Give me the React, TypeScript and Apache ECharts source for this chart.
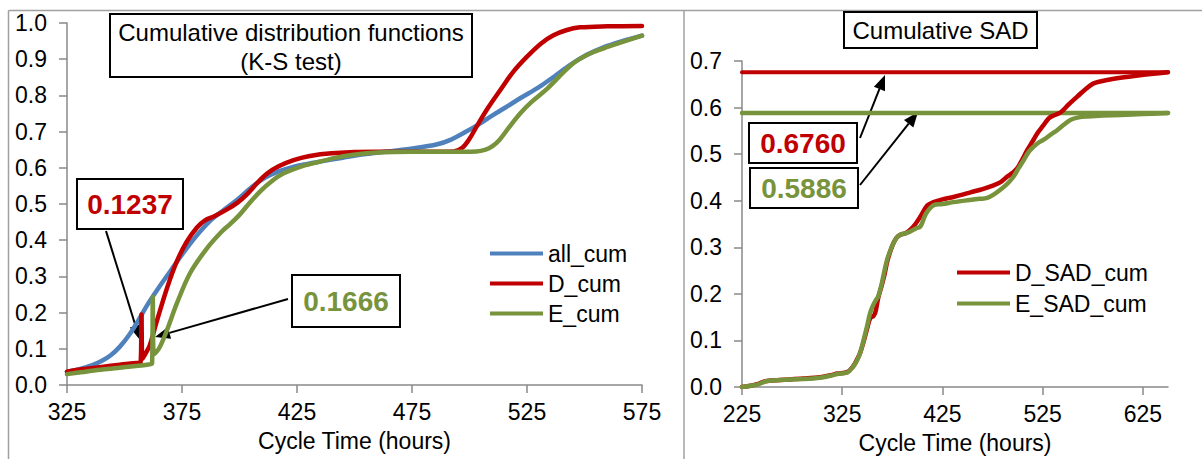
import React, { useEffect, useRef } from "react";
import * as echarts from "echarts";

// ---------- data ----------
const LEFT_X_TICKS = [325, 375, 425, 475, 525, 575];
const RIGHT_X_TICKS = [225, 325, 425, 525, 625];

const ALL_CUM: [number, number][] = [
  [325, 0.037], [330, 0.043], [336, 0.055], [340, 0.066], [344, 0.082], [348, 0.106],
  [352, 0.138], [356, 0.178], [360, 0.222], [365, 0.27], [370, 0.315], [375, 0.36],
  [381, 0.41], [387, 0.452], [393, 0.483], [399, 0.512], [405, 0.545], [411, 0.572],
  [417, 0.59], [423, 0.602], [429, 0.61], [435, 0.617], [445, 0.628], [455, 0.638],
  [464, 0.645], [476, 0.654], [486, 0.665], [492, 0.678], [498, 0.698], [504, 0.72],
  [510, 0.745], [516, 0.768], [522, 0.792], [530, 0.822], [537, 0.853], [544, 0.885],
  [551, 0.912], [558, 0.932], [566, 0.949], [575, 0.965],
];

const D_CUM: [number, number][] = [
  [325, 0.037], [332, 0.044], [340, 0.05], [348, 0.056], [354, 0.06], [357, 0.063],
  [357.4, 0.195], [357.8, 0.072], [359, 0.085], [361, 0.11], [364, 0.175], [368.5, 0.268],
  [372.8, 0.342], [377, 0.395], [381.5, 0.435], [385, 0.455], [389, 0.466], [394.6, 0.485],
  [399, 0.503], [403, 0.525], [408, 0.56], [412, 0.584], [417, 0.604], [423.5, 0.621],
  [430, 0.632], [440, 0.64], [460, 0.644], [480, 0.644], [493, 0.645], [497, 0.656],
  [500, 0.68], [503, 0.713], [508, 0.765], [513.4, 0.815], [519, 0.865], [525, 0.907],
  [531, 0.943], [536.5, 0.966], [542, 0.98], [548, 0.988], [560, 0.991], [575, 0.992],
];

const E_CUM: [number, number][] = [
  [325, 0.03], [332, 0.036], [339.5, 0.042], [347, 0.047], [354, 0.052], [359.8, 0.056],
  [362, 0.06], [362.3, 0.244], [362.7, 0.085], [364, 0.092], [365.6, 0.108], [368.5, 0.152],
  [372.8, 0.226], [378.6, 0.31], [385.9, 0.378], [392, 0.422], [396, 0.445], [400, 0.47],
  [404, 0.5], [409, 0.535], [414, 0.563], [419, 0.584], [426, 0.602], [433.7, 0.615],
  [442, 0.628], [449.6, 0.636], [460, 0.642], [475, 0.644], [490, 0.644], [503, 0.645],
  [507, 0.65], [510, 0.66], [513, 0.677], [517, 0.71], [522, 0.75], [527, 0.782],
  [533.7, 0.818], [539, 0.852], [545, 0.888], [550, 0.908], [554, 0.92], [560, 0.934],
  [565.6, 0.946], [575, 0.965],
];

const D_SAD_CUM: [number, number][] = [
  [225, 0.0], [232, 0.002], [240, 0.006], [246, 0.011], [250, 0.013], [263, 0.015],
  [286, 0.018], [303, 0.021], [315, 0.026], [320, 0.029], [330, 0.032], [336, 0.045],
  [340, 0.06], [343, 0.074], [346, 0.095], [349.7, 0.124], [353, 0.148], [356, 0.152],
  [358, 0.16], [361, 0.192], [364, 0.215], [367, 0.24], [370, 0.27], [374.7, 0.302],
  [379, 0.32], [383, 0.327], [388, 0.33], [393, 0.338], [398, 0.35], [403, 0.366],
  [410, 0.39], [416, 0.397], [425, 0.403], [436, 0.408], [445, 0.413], [453, 0.418],
  [465, 0.425], [476, 0.433], [483, 0.44], [489.7, 0.452], [495, 0.46], [499.7, 0.47],
  [505, 0.49], [509.7, 0.509], [515, 0.528], [519.7, 0.545], [525, 0.56], [531, 0.577],
  [536, 0.583], [543, 0.59], [551, 0.607], [559.7, 0.624], [568, 0.64], [575, 0.651],
  [580, 0.655], [596, 0.662], [620, 0.669], [650, 0.676],
];

const E_SAD_CUM: [number, number][] = [
  [225, 0.0], [232, 0.002], [240, 0.005], [246, 0.01], [250, 0.013], [263, 0.015],
  [286, 0.017], [303, 0.02], [315, 0.025], [320, 0.028], [330, 0.031], [336, 0.044],
  [340, 0.058], [343, 0.074], [346, 0.098], [349.7, 0.13], [353, 0.16], [356.3, 0.178],
  [359, 0.188], [361, 0.195], [364, 0.218], [367, 0.248], [370, 0.275], [374.7, 0.302],
  [379, 0.32], [383, 0.327], [388, 0.33], [393, 0.334], [398, 0.34], [403, 0.345],
  [408, 0.37], [413, 0.385], [418, 0.392], [425, 0.393], [436, 0.397], [450, 0.401],
  [462, 0.404], [469.7, 0.406], [476, 0.413], [483, 0.424], [490, 0.437], [496, 0.452],
  [501, 0.47], [506.3, 0.488], [511, 0.505], [516, 0.516], [521, 0.525], [526, 0.531],
  [533, 0.542], [539.7, 0.552], [546, 0.563], [553, 0.574], [561, 0.579], [569.7, 0.581],
  [585, 0.583], [603, 0.584], [625, 0.586], [650, 0.5886],
];

const D_SAD_MAX = 0.676;
const E_SAD_MAX = 0.5886;
const SAD_X_RANGE = [225, 650];

const KS_D_LABEL = "0.1237";
const KS_E_LABEL = "0.1666";
const SAD_D_LABEL = "0.6760";
const SAD_E_LABEL = "0.5886";

// ---------- styling ----------
const BLUE = "#4F81BD";
const RED = "#C00000";
const GREEN = "#77933C";
const AXIS_GRAY = "#898989";
const FONT = "'Liberation Sans', Arial, sans-serif";
const FS = 23;

function arrow(x1: number, y1: number, x2: number, y2: number) {
  const len = 15;
  const half = 6;
  const dx = x2 - x1;
  const dy = y2 - y1;
  const L = Math.hypot(dx, dy);
  const ux = dx / L;
  const uy = dy / L;
  const bx = x2 - ux * len;
  const by = y2 - uy * len;
  const px = -uy;
  const py = ux;
  return [
    { type: "line", shape: { x1, y1, x2: bx, y2: by }, style: { stroke: "#000", lineWidth: 2 } },
    {
      type: "polygon",
      shape: { points: [[x2, y2], [bx + px * half, by + py * half], [bx - px * half, by - py * half]] },
      style: { fill: "#000" },
    },
  ];
}

function box(x: number, y: number, w: number, h: number) {
  return {
    type: "rect",
    shape: { x, y, width: w, height: h },
    style: { fill: "#fff", stroke: "#000", lineWidth: 2 },
  };
}

function label(x: number, y: number, text: string, color: string, bold: boolean, size: number, lh?: number) {
  return {
    type: "text",
    x,
    y,
    style: {
      text,
      fill: color,
      fontFamily: FONT,
      fontSize: size,
      fontWeight: bold ? "bold" : "normal",
      align: "center",
      verticalAlign: "middle",
      lineHeight: lh,
    },
  };
}

function xAxisCfg(gridIndex: number, min: number, max: number, ticks: number[]) {
  return {
    type: "value",
    gridIndex,
    min,
    max,
    name: "Cycle Time (hours)",
    nameLocation: "middle",
    nameGap: 44,
    nameTextStyle: { color: "#000", fontFamily: FONT, fontSize: FS },
    axisLine: { show: true, lineStyle: { color: AXIS_GRAY, width: 1.5 } },
    axisTick: { show: true, length: 8, customValues: ticks, lineStyle: { color: AXIS_GRAY, width: 1.5 } },
    axisLabel: { customValues: ticks, color: "#000", fontFamily: FONT, fontSize: FS, margin: 15 },
    splitLine: { show: false },
  };
}

function yAxisCfg(gridIndex: number, max: number) {
  return {
    type: "value",
    gridIndex,
    min: 0,
    max,
    interval: 0.1,
    axisLine: { show: true, lineStyle: { color: AXIS_GRAY, width: 1.5 } },
    axisTick: { show: true, length: 8, lineStyle: { color: AXIS_GRAY, width: 1.5 } },
    axisLabel: {
      color: "#000",
      fontFamily: FONT,
      fontSize: FS,
      margin: 20,
      formatter: (v: number) => v.toFixed(1),
    },
    splitLine: { show: false },
  };
}

function lineSeries(name: string, data: [number, number][], color: string, idx: number, width = 4.5, smooth: number | boolean = 0.35) {
  return {
    type: "line",
    name,
    xAxisIndex: idx,
    yAxisIndex: idx,
    data,
    symbol: "none",
    showSymbol: false,
    smooth,
    lineStyle: { color, width, cap: "round", join: "round" },
    itemStyle: { color },
  };
}

export default function App() {
  const ref = useRef<HTMLDivElement>(null);

  useEffect(() => {
    if (!ref.current) return;
    const chart = echarts.init(ref.current, null, { renderer: "svg" });

    const graphics: any[] = [
      // panel borders
      { type: "line", shape: { x1: 8.5, y1: 10.5, x2: 1202, y2: 10.5 }, style: { stroke: "#a0a0a0", lineWidth: 1.5 } },
      { type: "line", shape: { x1: 8.5, y1: 10.5, x2: 8.5, y2: 459 }, style: { stroke: "#a0a0a0", lineWidth: 1.5 } },
      { type: "line", shape: { x1: 684, y1: 10.5, x2: 684, y2: 459 }, style: { stroke: "#a0a0a0", lineWidth: 1.5 } },
      // titles
      box(110, 14, 362, 63),
      label(291, 47, "Cumulative distribution functions\n(K-S test)", "#000", false, 24, 29),
      box(844, 12, 193, 36),
      label(940.5, 30, "Cumulative SAD", "#000", false, 24),
      // arrows
      ...arrow(106, 231, 140, 340),
      ...arrow(288, 299, 155, 337),
      ...arrow(860, 138, 885, 75),
      ...arrow(860, 185, 918, 112),
      // value boxes
      box(77, 179, 106, 50),
      label(130, 204, KS_D_LABEL, RED, true, 28),
      box(292, 275, 108, 52),
      label(346, 301, KS_E_LABEL, GREEN, true, 28),
      box(749, 123, 108, 40),
      label(803, 143, SAD_D_LABEL, RED, true, 28),
      box(750, 168, 108, 40),
      label(804, 188, SAD_E_LABEL, GREEN, true, 28),
    ];

    chart.setOption({
      animation: false,
      backgroundColor: "#fff",
      grid: [
        { left: 67, top: 23, width: 575, height: 362 },
        { left: 742, top: 61, width: 426, height: 327 },
      ],
      xAxis: [
        xAxisCfg(0, 325, 575, LEFT_X_TICKS),
        xAxisCfg(1, SAD_X_RANGE[0], SAD_X_RANGE[1], RIGHT_X_TICKS),
      ],
      yAxis: [yAxisCfg(0, 1.0), yAxisCfg(1, 0.7)],
      legend: [
        {
          data: ["all_cum", "D_cum", "E_cum"],
          orient: "vertical",
          left: 485,
          top: 237,
          icon: "rect",
          itemWidth: 53,
          itemHeight: 4,
          itemGap: 7,
          textStyle: { color: "#000", fontFamily: FONT, fontSize: FS },
        },
        {
          data: ["D_SAD_cum", "E_SAD_cum"],
          orient: "vertical",
          left: 952,
          top: 256,
          icon: "rect",
          itemWidth: 53,
          itemHeight: 4,
          itemGap: 8,
          textStyle: { color: "#000", fontFamily: FONT, fontSize: FS },
        },
      ],
      series: [
        lineSeries("all_cum", ALL_CUM, BLUE, 0),
        lineSeries("D_cum", D_CUM, RED, 0),
        lineSeries("E_cum", E_CUM, GREEN, 0),
        lineSeries("D_SAD_max", [[SAD_X_RANGE[0], D_SAD_MAX], [SAD_X_RANGE[1], D_SAD_MAX]], RED, 1, 4, false),
        lineSeries("E_SAD_max", [[SAD_X_RANGE[0], E_SAD_MAX], [SAD_X_RANGE[1], E_SAD_MAX]], GREEN, 1, 4.5, false),
        lineSeries("D_SAD_cum", D_SAD_CUM, RED, 1),
        lineSeries("E_SAD_cum", E_SAD_CUM, GREEN, 1),
      ],
      graphic: graphics,
    });

    return () => chart.dispose();
  }, []);

  return (
    <div
      ref={ref}
      style={{ position: "absolute", left: 0, top: 0, width: 1202, height: 459, background: "#fff" }}
    />
  );
}
